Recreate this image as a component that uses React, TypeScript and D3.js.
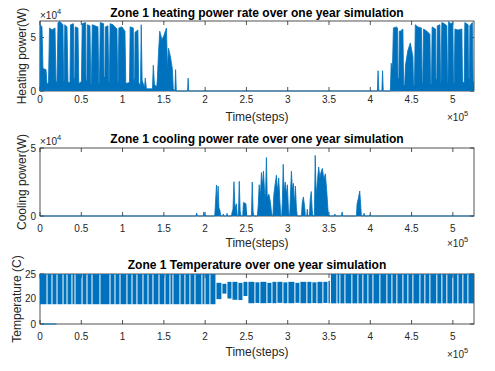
import React from 'react';
import * as d3 from 'd3';

const W = 495;
const H = 371;
const BLUE = '#0072bd';
const INK = '#262626';
const FONT = '"Liberation Sans", Arial, Helvetica, sans-serif';

// x values are in units of 1e5 steps, power in units of 1e4 W
const xMax = 5.256;
const xTicks = [0, 0.5, 1, 1.5, 2, 2.5, 3, 3.5, 4, 4.5, 5];
const heatTicks = [0, 5];
const coolTicks = [0, 5];
const tempTicks = [0, 20, 25];

const heating: [number, number][] = [
  [0, 0], [0.004, 6.2], [0.024, 6.0], [0.036, 2.1], [0.073, 2.0], [0.085, 0.6],
  [0.103, 0.8], [0.115, 5.9], [0.145, 5.7], [0.182, 5.9], [0.194, 0.7],
  [0.206, 1.0], [0.218, 6.4], [0.242, 6.5], [0.278, 6.2], [0.286, 0.9],
  [0.293, 1.0], [0.3, 6.2], [0.327, 6.0], [0.339, 0.8],
  [0.363, 0.8], [0.37, 6.2], [0.405, 6.3], [0.41, 1.2], [0.421, 1.2], [0.426, 6.0], [0.46, 5.9], [0.47, 0.7],
  [0.502, 0.9], [0.511, 6.3], [0.552, 6.4], [0.557, 1.0], [0.568, 1.0], [0.573, 6.2], [0.605, 6.1], [0.615, 0.6],
  [0.623, 0.8], [0.633, 6.2], [0.666, 6.1], [0.702, 6.0], [0.712, 0.7],
  [0.72, 0.8], [0.73, 6.4], [0.77, 6.3], [0.775, 1.3], [0.786, 1.3], [0.791, 6.0], [0.823, 6.1], [0.833, 0.9],
  [0.84, 0.9], [0.849, 6.3], [0.884, 6.2], [0.932, 5.8], [0.941, 0.8],
  [0.947, 0.9], [0.955, 5.9], [0.993, 6.0], [1.029, 5.6], [1.039, 0.7],
  [1.084, 0.8], [1.092, 6.0], [1.13, 5.9], [1.135, 1.1], [1.146, 1.1], [1.151, 5.5], [1.186, 5.7], [1.195, 0.8],
  [1.217, 0.5], [1.226, 6.2], [1.237, 1.0], [1.265, 0.3], [1.275, 1.2], [1.289, 0.2],
  [1.362, 0.2], [1.372, 2.4], [1.386, 0.6], [1.414, 0.4], [1.422, 1.2], [1.435, 3.5],
  [1.45, 5.6], [1.477, 4.8], [1.501, 5.2], [1.531, 5.9], [1.544, 2.0], [1.556, 4.0],
  [1.58, 3.2], [1.604, 2.0], [1.614, 0.2],
  [1.634, 0], [1.642, 2.0], [1.651, 0],
  [1.787, 0], [1.794, 1.2], [1.801, 0],
  [4.086, 0], [4.094, 1.9], [4.104, 0], [4.14, 0], [4.149, 1.9], [4.157, 0],
  [4.243, 0], [4.253, 2.6], [4.268, 2.0], [4.28, 5.9], [4.316, 6.0], [4.33, 5.9], [4.335, 1.2], [4.346, 1.2],
  [4.351, 5.6], [4.364, 5.6], [4.395, 5.8], [4.404, 0.6],
  [4.416, 0.5], [4.426, 2.4], [4.455, 3.8], [4.485, 4.5], [4.516, 3.2], [4.524, 0.5],
  [4.535, 0.6], [4.545, 6.2], [4.576, 6.0], [4.619, 5.9], [4.628, 0.7],
  [4.636, 0.8], [4.644, 5.8], [4.685, 5.6], [4.722, 5.3], [4.73, 0.7],
  [4.741, 0.7], [4.749, 6.0], [4.79, 5.8], [4.795, 1.1], [4.806, 1.1], [4.811, 6.1], [4.843, 6.2], [4.851, 0.8],
  [4.857, 0.8], [4.866, 6.4], [4.897, 6.3], [4.927, 6.1], [4.935, 0.6],
  [4.941, 0.8], [4.949, 6.5], [4.976, 6.3], [5.0, 6.4], [5.008, 0.7],
  [5.017, 0.8], [5.025, 5.8], [5.061, 5.7], [5.109, 5.8], [5.117, 0.8],
  [5.137, 0.8], [5.145, 6.4], [5.185, 6.2], [5.19, 1.2], [5.201, 1.2], [5.206, 6.1], [5.236, 6.4], [5.245, 0.8], [5.256, 0.9],
];

const cooling: [number, number][] = [
  [0, 0], [1.889, 0], [1.897, 0.22], [1.906, 0], [1.977, 0], [1.985, 0.3], [1.994, 0],
  [2.116, 0], [2.125, 0.9], [2.137, 2.28], [2.146, 0.8], [2.157, 2.2], [2.167, 0.6], [2.179, 0.4], [2.189, 0],
  [2.213, 0], [2.219, 0.15], [2.225, 0], [2.259, 0], [2.265, 0.2], [2.271, 0],
  [2.318, 0], [2.327, 0.3], [2.337, 0.5], [2.349, 2.52], [2.361, 0.6], [2.379, 0.9], [2.389, 0],
  [2.403, 0], [2.413, 2.55], [2.424, 0.4], [2.433, 0],
  [2.455, 0], [2.464, 1.0], [2.494, 0.9], [2.504, 0],
  [2.561, 0], [2.57, 2.5], [2.581, 0.3], [2.591, 0],
  [2.633, 0], [2.643, 0.8], [2.654, 2.3], [2.669, 1.5], [2.682, 3.2], [2.694, 2.2], [2.706, 3.3],
  [2.718, 2.0], [2.73, 1.2], [2.742, 4.3], [2.752, 1.4], [2.772, 1.6], [2.791, 1.0], [2.803, 0.3], [2.812, 0],
  [2.821, 0], [2.831, 1.5], [2.845, 2.2], [2.863, 3.0], [2.875, 1.8], [2.891, 2.8], [2.906, 1.0], [2.915, 0],
  [2.927, 0], [2.936, 1.2], [2.945, 3.8], [2.956, 1.8], [2.97, 2.5], [2.984, 1.6], [2.996, 2.3], [3.008, 0.5], [3.017, 0],
  [3.024, 0], [3.033, 1.6], [3.045, 3.3], [3.057, 1.9], [3.069, 2.4], [3.081, 0.8], [3.093, 2.2], [3.105, 0.6], [3.115, 0],
  [3.166, 0], [3.176, 1.0], [3.19, 1.4], [3.206, 0.6], [3.214, 0],
  [3.23, 0], [3.237, 0.5], [3.245, 0],
  [3.263, 0], [3.272, 1.2], [3.285, 1.8], [3.297, 0.4], [3.305, 0],
  [3.323, 0], [3.333, 4.45], [3.344, 1.5], [3.36, 2.6], [3.375, 3.6], [3.39, 2.8], [3.402, 3.2],
  [3.42, 3.5], [3.438, 2.7], [3.456, 3.1], [3.475, 1.6], [3.487, 0.5], [3.496, 0],
  [3.565, 0], [3.571, 0.15], [3.577, 0],
  [3.65, 0], [3.659, 0.3], [3.667, 0],
  [3.832, 0], [3.84, 0.9], [3.856, 1.3], [3.872, 1.84], [3.884, 0.8], [3.892, 0],
  [3.916, 0], [3.925, 0.2], [3.933, 0],
  [3.989, 0], [3.996, 0.1], [4.004, 0], [5.256, 0],
];

// temperature swings: segment starts (1e5 steps) with the low / high of each segment
const tempBreaks = [
  0, 0.091, 0.151, 0.212, 0.285, 0.333, 0.393, 0.43, 0.515, 0.575, 0.636, 0.732, 0.854, 0.914,
  0.975, 1.059, 1.12, 1.18, 1.253, 1.314, 1.374, 1.447, 1.519, 1.58, 1.616, 1.701, 1.761, 1.822,
  1.883, 1.967, 2.004, 2.064,
  2.137, 2.209, 2.27, 2.331, 2.403, 2.464, 2.524, 2.609, 2.669, 2.754, 2.815, 2.875, 2.948, 3.008,
  3.093, 3.154, 3.238, 3.299, 3.36, 3.432, 3.493,
  3.523, 3.602, 3.638, 3.699, 3.783, 3.856, 3.916, 3.977, 4.038, 4.122, 4.207, 4.268, 4.328, 4.401,
  4.461, 4.522, 4.607, 4.667, 4.728, 4.812, 4.873, 4.933, 5.006, 5.067, 5.127, 5.188,
  5.256,
];
const tempLow = [
  15.5, 15.5, 15.5, 15.5, 15.5, 15.5, 15.5, 15.5, 15.5, 15.5, 15.5, 15.5, 15.5, 15.5,
  15.5, 15.5, 15.5, 15.5, 15.5, 15.5, 15.5, 15.5, 15.5, 15.5, 15.5, 15.5, 15.5, 15.5,
  15.5, 15.5, 15.5, 15.5,
  19.5, 21.0, 20.0, 19.0, 18.8, 20.5, 16.3, 16.5, 16.3, 16.4, 16.3, 16.6, 16.3, 16.3,
  16.6, 16.3, 16.3, 16.4, 16.3, 16.5, 16.3,
  16.2, 16.2, 16.2, 16.2, 16.2, 16.2, 16.2, 16.2, 16.2, 16.2, 16.2, 16.2, 16.2, 16.2,
  16.2, 16.2, 16.2, 16.2, 16.2, 16.2, 16.2, 16.2, 16.2, 16.2, 16.2, 16.2,
];
const tempHigh = [
  25, 25, 25, 25, 25, 25, 25, 25, 25, 25, 25, 25, 25, 25,
  25, 25, 25, 25, 25, 25, 25, 25, 25, 25, 25, 25, 25, 25,
  25, 25, 25, 25,
  23.2, 23.0, 23.4, 23.4, 23.2, 23.4, 23.4, 23.3, 23.4, 23.2, 23.4, 23.4, 23.3, 23.4,
  23.2, 23.4, 23.4, 23.3, 23.4, 23.4, 23.6,
  25, 25, 25, 25, 25, 25, 25, 25, 25, 25, 25, 25, 25, 25,
  25, 25, 25, 25, 25, 25, 25, 25, 25, 25, 25, 25,
];
const tempStart: [number, number][] = [[0.02, 0], [0.2, 0]];

const LEFT = 40;
const RIGHT = 474;

const x = d3.scaleLinear().domain([0, xMax]).range([LEFT, RIGHT]);

type PanelProps = {
  top: number;
  bottom: number;
  y: d3.ScaleLinear<number, number>;
  yTicks: number[];
  title: string;
  titleY: number;
  ylabel: string;
  ylabelX: number;
  tickLabelY: number;
  xlabelY: number;
  expY: number;
  yExp?: number;
  id: string;
  children?: React.ReactNode;
};

function Panel(p: PanelProps) {
  const tl = 4;
  return (
    <g>
      <defs>
        <clipPath id={p.id}>
          <rect x={LEFT - 1} y={p.top - 1} width={RIGHT - LEFT + 2} height={p.bottom - p.top + 2} />
        </clipPath>
      </defs>
      <rect x={LEFT} y={p.top} width={RIGHT - LEFT} height={p.bottom - p.top} fill="#fff" stroke={INK} strokeWidth={0.8} />
      {xTicks.map((t) => (
        <g key={'x' + t}>
          <line x1={x(t)} x2={x(t)} y1={p.bottom} y2={p.bottom - tl} stroke={INK} strokeWidth={0.8} />
          <line x1={x(t)} x2={x(t)} y1={p.top} y2={p.top + tl} stroke={INK} strokeWidth={0.8} />
          <text x={x(t)} y={p.tickLabelY} textAnchor="middle" fontSize={10} fill={INK}>{String(t)}</text>
        </g>
      ))}
      {p.yTicks.map((t) => (
        <g key={'y' + t}>
          <line x1={LEFT} x2={LEFT + tl} y1={p.y(t)} y2={p.y(t)} stroke={INK} strokeWidth={0.8} />
          <line x1={RIGHT} x2={RIGHT - tl} y1={p.y(t)} y2={p.y(t)} stroke={INK} strokeWidth={0.8} />
          <text x={36} y={p.y(t) + 3.6} textAnchor="end" fontSize={10} fill={INK}>{String(t)}</text>
        </g>
      ))}
      <g clipPath={`url(#${p.id})`}>{p.children}</g>
      <text x={(LEFT + RIGHT) / 2} y={p.titleY} textAnchor="middle" fontSize={12} fontWeight="bold" fill="#000">{p.title}</text>
      <text x={(LEFT + RIGHT) / 2} y={p.xlabelY} textAnchor="middle" fontSize={12} fill={INK}>Time(steps)</text>
      <text
        transform={`translate(${p.ylabelX},${(p.top + p.bottom) / 2}) rotate(-90)`}
        textAnchor="middle" fontSize={12} fill={INK}
      >{p.ylabel}</text>
      <text x={447} y={p.expY} fontSize={10} fill={INK}>
        ×10<tspan dy={-5} fontSize={7.5}>5</tspan>
      </text>
      {p.yExp !== undefined && (
        <text x={40} y={p.yExp} fontSize={10} fill={INK}>
          ×10<tspan dy={-5} fontSize={7.5}>4</tspan>
        </text>
      )}
    </g>
  );
}

export default function App() {
  const yHeat = d3.scaleLinear().domain([0, 6.55]).range([91, 21]);
  const yCool = d3.scaleLinear().domain([0, 5]).range([216, 148]);
  const yTemp = d3.scaleLinear().domain([0, 20, 25]).range([324, 298.5, 274]);

  const heatArea = d3.area<[number, number]>().x((d) => x(d[0])).y0(yHeat(0)).y1((d) => yHeat(d[1]));
  const heatLine = d3.line<[number, number]>().x((d) => x(d[0])).y((d) => yHeat(d[1]));
  const coolArea = d3.area<[number, number]>().x((d) => x(d[0])).y0(yCool(0)).y1((d) => yCool(d[1]));
  const coolLine = d3.line<[number, number]>().x((d) => x(d[0])).y((d) => yCool(d[1]));
  const tempLine = d3.line<[number, number]>().x((d) => x(d[0])).y((d) => yTemp(d[1]));

  const segs = tempLow.map((lo, i) => {
    const x0 = x(tempBreaks[i]);
    const last = i === tempLow.length - 1;
    const x1 = x(tempBreaks[i + 1]) - (last ? 0 : 1);
    return { x0, w: Math.max(0.5, x1 - x0), yTop: yTemp(tempHigh[i]), yBot: yTemp(lo) };
  });

  return (
    <svg width={W} height={H} style={{ position: 'absolute', left: 0, top: 0, background: '#fff' }} fontFamily={FONT}>
      <rect width={W} height={H} fill="#fff" />
      <Panel id="c1" top={21} bottom={91} y={yHeat} yTicks={heatTicks}
        title="Zone 1 heating power rate over one year simulation" titleY={17}
        ylabel="Heating power(W)" ylabelX={26} tickLabelY={103} xlabelY={121} expY={121} yExp={18.5}>
        <path d={heatArea(heating) || ''} fill={BLUE} />
        <path d={heatLine(heating) || ''} fill="none" stroke={BLUE} strokeWidth={0.8} />
      </Panel>
      <Panel id="c2" top={148} bottom={216} y={yCool} yTicks={coolTicks}
        title="Zone 1 cooling power rate over one year simulation" titleY={142.5}
        ylabel="Cooling power(W)" ylabelX={26} tickLabelY={232} xlabelY={247} expY={247} yExp={144.5}>
        <path d={coolArea(cooling) || ''} fill={BLUE} />
        <path d={coolLine(cooling) || ''} fill="none" stroke={BLUE} strokeWidth={0.8} />
      </Panel>
      <Panel id="c3" top={274} bottom={324} y={yTemp} yTicks={tempTicks}
        title="Zone 1 Temperature over one year simulation" titleY={269}
        ylabel="Temperature (C)" ylabelX={21} tickLabelY={340} xlabelY={356} expY={358}>
        {segs.map((s, i) => (
          <rect key={i} x={s.x0} y={s.yTop} width={s.w} height={s.yBot - s.yTop} fill={BLUE} />
        ))}
        <path d={tempLine(tempStart) || ''} fill="none" stroke={BLUE} strokeWidth={1} />
      </Panel>
    </svg>
  );
}
